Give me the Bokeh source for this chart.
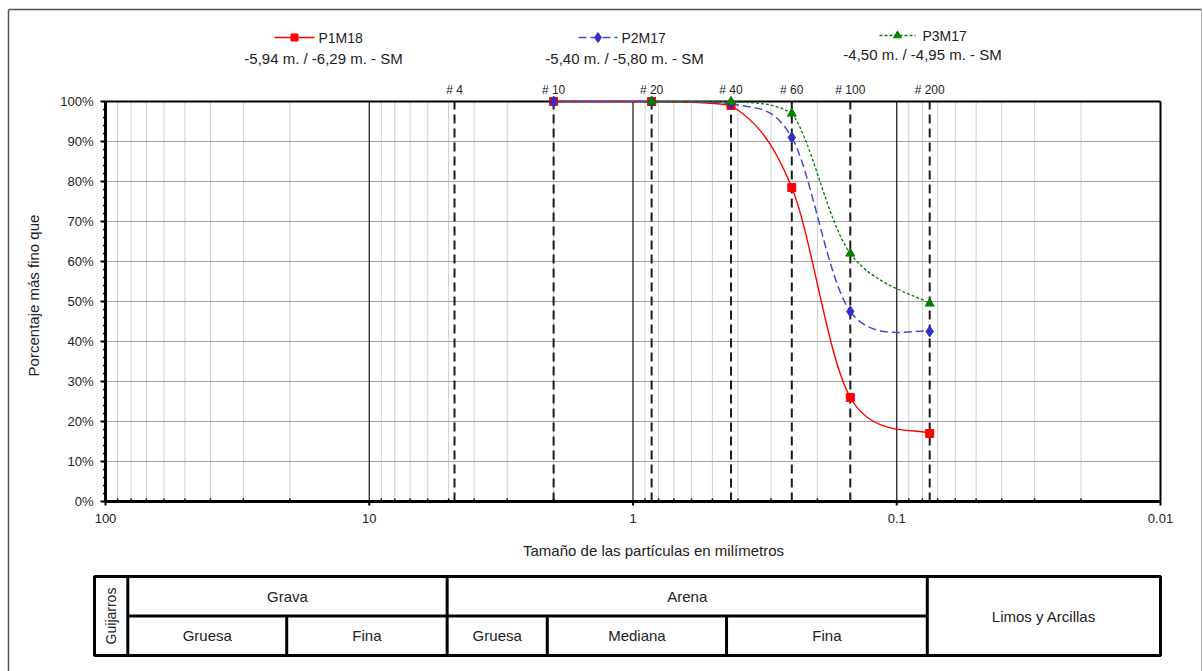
import math
from bokeh.plotting import figure
from bokeh.models import Range1d, LinearScale, LogScale
from bokeh.embed import file_html
from bokeh.resources import INLINE
from bokeh.core.properties import value

FONT = "Liberation Sans"
TXT = "#222222"

# ---------------- data ----------------
sieve_labels = ["# 4", "# 10", "# 20", "# 40", "# 60", "# 100", "# 200"]
sieve_mm = [4.75, 2.0, 0.85, 0.425, 0.25, 0.15, 0.075]

p1m18_mm = [2.0, 0.85, 0.425, 0.25, 0.15, 0.075]
p1m18 = [100.0, 100.0, 99.0, 78.5, 26.0, 17.0]
p2m17_mm = [2.0, 0.85, 0.425, 0.25, 0.15, 0.075]
p2m17 = [100.0, 100.0, 99.5, 91.0, 47.5, 42.5]
p3m17_mm = [0.85, 0.425, 0.25, 0.15, 0.075]
p3m17 = [100.0, 100.0, 97.0, 62.0, 49.5]

series_names = ["P1M18", "P2M17", "P3M17"]
series_depths = ["-5,94 m. / -6,29 m. - SM",
                 "-5,40 m. / -5,80 m. - SM",
                 "-4,50 m. / -4,95 m. - SM"]

x_major = [100, 10, 1, 0.1, 0.01]
x_major_labels = ["100", "10", "1", "0.1", "0.01"]
x_minor_mult = [2, 3, 4, 5, 6, 7, 8, 9]
y_major = [0, 10, 20, 30, 40, 50, 60, 70, 80, 90, 100]
y_major_labels = ["0%", "10%", "20%", "30%", "40%", "50%", "60%", "70%", "80%", "90%", "100%"]
y_minor = list(range(0, 101, 2))

# soil classification table (mm limits)
class_bounds = [100, 75, 19, 4.75, 2.0, 0.425, 0.075, 0.01]
row1_names = ["Grava", "Arena"]
row1_lims = [(75, 4.75), (4.75, 0.075)]
row2_names = ["Gruesa", "Fina", "Gruesa", "Mediana", "Fina"]
row2_lims = [(75, 19), (19, 4.75), (4.75, 2.0), (2.0, 0.425), (0.425, 0.075)]

# ---------------- layout geometry (pixels) ----------------
W, H = 1203, 671
PL, PR, PT, PB = 105, 1160, 101, 501          # plot area
DEC = (PR - PL) / 4.0                           # px per decade
YPX = (PB - PT) / 100.0                         # px per percent
TL, TR, TT, TB = 94, 1160, 576, 655             # classification table
TDEC = (TR - TL) / 4.0
TYPX = (TB - TT) / 2.0


def xo(x, dpx):
    """x value shifted dpx pixels to the right on the chart's log scale"""
    return x * 10 ** (-dpx / DEC)


def yo(y, dpx):
    """y value shifted dpx pixels downward"""
    return y - dpx / YPX


p = figure(width=W, height=H, x_axis_type="log",
           x_range=Range1d(10 ** (2 + PL / DEC), 10 ** (-2 - (W - PR) / DEC)),
           y_range=Range1d(-(H - PB) / YPX, 100 + PT / YPX),
           x_axis_location=None, y_axis_location=None,
           output_backend="svg", toolbar_location=None,
           min_border=0, min_border_left=0, min_border_right=0,
           min_border_top=0, min_border_bottom=0)
p.outline_line_color = None
p.grid.visible = False
p.extra_x_ranges = {"px": Range1d(0, W),
                    "tbl": Range1d(10 ** (2 + TL / TDEC), 10 ** (-2 - (W - TR) / TDEC))}
p.extra_y_ranges = {"px": Range1d(H, 0),
                    "tbl": Range1d(-(H - TB) / TYPX, 2 + TT / TYPX)}
p.extra_x_scales = {"px": LinearScale(), "tbl": LogScale()}
p.extra_y_scales = {"px": LinearScale(), "tbl": LinearScale()}

# ---------------- grid ----------------
minor_x = [d / 10 * m for d in x_major[:-1] for m in x_minor_mult]
p.segment(x0=minor_x, y0=[0] * len(minor_x), x1=minor_x, y1=[100] * len(minor_x),
          line_color="#cfcfcf", line_width=1)
inner_y = y_major[1:-1]
p.segment(x0=[x_major[0]] * len(inner_y), y0=inner_y, x1=[x_major[-1]] * len(inner_y), y1=inner_y,
          line_color="#a0a0a0", line_width=1.2)
inner_x = x_major[1:-1]
p.segment(x0=inner_x, y0=[0] * len(inner_x), x1=inner_x, y1=[100] * len(inner_x),
          line_color="#111111", line_width=1.2)

# sieve dashed verticals and labels
p.segment(x0=sieve_mm, y0=[0] * len(sieve_mm), x1=sieve_mm, y1=[100] * len(sieve_mm),
          line_color="#1a1a1a", line_width=2, line_dash="9 5")
p.text(x=sieve_mm, y=[yo(100, -12)] * len(sieve_mm), text=sieve_labels,
       text_align="center", text_baseline="middle", text_font=value(FONT),
       text_font_size="12px", text_color=TXT)

# frame: top / right thin, left / bottom heavy axes
p.segment(x0=[x_major[0], x_major[-1]], y0=[100, 0], x1=[x_major[-1], x_major[-1]], y1=[100, 100],
          line_color="#000000", line_width=2)
p.segment(x0=[x_major[0], x_major[0]], y0=[0, 0], x1=[x_major[0], x_major[-1]], y1=[100, 0],
          line_color="#000000", line_width=3)

# y ticks
p.segment(x0=[x_major[0]] * len(y_major), y0=y_major, x1=[xo(x_major[0], -5)] * len(y_major), y1=y_major,
          line_color="#000000", line_width=2)
p.segment(x0=[x_major[0]] * len(y_minor), y0=y_minor, x1=[xo(x_major[0], -2.5)] * len(y_minor), y1=y_minor,
          line_color="#000000", line_width=1.5)
# x ticks
p.segment(x0=x_major, y0=[0] * len(x_major), x1=x_major, y1=[yo(0, 4)] * len(x_major),
          line_color="#000000", line_width=2)
p.segment(x0=minor_x, y0=[0] * len(minor_x), x1=minor_x, y1=[yo(0, -3)] * len(minor_x),
          line_color="#000000", line_width=1.5)

# tick labels
p.text(x=[xo(x_major[0], -12)] * len(y_major), y=y_major, text=y_major_labels,
       text_align="right", text_baseline="middle", text_font=value(FONT),
       text_font_size="13px", text_color=TXT)
p.text(x=x_major, y=[yo(0, 17)] * len(x_major), text=x_major_labels,
       text_align="center", text_baseline="middle", text_font=value(FONT),
       text_font_size="13px", text_color=TXT)

# axis titles
p.text(x=[653], y=[550], text=["Tamaño de las partículas en milímetros"],
       x_range_name="px", y_range_name="px",
       text_align="center", text_baseline="middle", text_font=value(FONT),
       text_font_size="15px", text_color=TXT)
p.text(x=[33], y=[295], text=["Porcentaje más fino que"], angle=math.pi / 2,
       x_range_name="px", y_range_name="px",
       text_align="center", text_baseline="middle", text_font=value(FONT),
       text_font_size="15px", text_color=TXT)


# ---------------- series (smoothed like the source) ----------------
def smooth_parts(xs, ys, ymax=100.0):
    lx = [math.log10(v) for v in xs]
    y = list(ys)
    n = len(lx)
    out = {k: [] for k in ["x0", "y0", "x1", "y1", "cx0", "cy0", "cx1", "cy1"]}
    for i in range(n - 1):
        im = max(i - 1, 0)
        ip = min(i + 2, n - 1)
        out["x0"].append(xs[i]); out["y0"].append(y[i])
        out["x1"].append(xs[i + 1]); out["y1"].append(y[i + 1])
        out["cx0"].append(10 ** (lx[i] + (lx[i + 1] - lx[im]) / 6.0))
        out["cy0"].append(min(ymax, y[i] + (y[i + 1] - y[im]) / 6.0))
        out["cx1"].append(10 ** (lx[i + 1] - (lx[ip] - lx[i]) / 6.0))
        out["cy1"].append(min(ymax, y[i + 1] - (y[ip] - y[i]) / 6.0))
    return out


series = {
    "P1M18": dict(mm=p1m18_mm, vals=p1m18, color="#ff0000", mcolor="#ff0000", dash="solid",
                  width=1.4, marker="square", size=8),
    "P2M17": dict(mm=p2m17_mm, vals=p2m17, color="#4646d8", mcolor="#2f2fc4", dash="8 4",
                  width=1.5, marker="diamond", size=11),
    "P3M17": dict(mm=p3m17_mm, vals=p3m17, color="#008000", mcolor="#008000", dash="3 2",
                  width=1.3, marker="triangle", size=9),
}
for name in series_names:
    st = series[name]
    parts = smooth_parts(st["mm"], st["vals"])
    p.bezier(x0=parts["x0"], y0=parts["y0"], x1=parts["x1"], y1=parts["y1"],
             cx0=parts["cx0"], cy0=parts["cy0"], cx1=parts["cx1"], cy1=parts["cy1"],
             line_color=st["color"], line_width=st["width"], line_dash=st["dash"])
for name in series_names:
    st = series[name]
    p.scatter(st["mm"], st["vals"], marker=st["marker"], size=st["size"],
              fill_color=st["mcolor"], line_color=st["mcolor"])

# ---------------- legend (header) ----------------
leg_line = {"P1M18": (274, 314, 37), "P2M17": (578, 617, 37), "P3M17": (879, 915, 35)}
leg_text_x = {"P1M18": 318, "P2M17": 621, "P3M17": 922}
leg_sub = {"P1M18": (323, 58), "P2M17": (624, 58), "P3M17": (922, 54)}
for name, sub in zip(series_names, series_depths):
    st = series[name]
    xa, xb, yy = leg_line[name]
    p.segment(x0=[xa], y0=[yy], x1=[xb], y1=[yy], x_range_name="px", y_range_name="px",
              line_color=st["color"], line_width=st["width"], line_dash=st["dash"])
    p.scatter(x=[(xa + xb) / 2], y=[yy], x_range_name="px", y_range_name="px",
              marker=st["marker"], size=st["size"] - 1,
              fill_color=st["mcolor"], line_color=st["mcolor"])
    p.text(x=[leg_text_x[name]], y=[yy], text=[name], x_range_name="px", y_range_name="px",
           text_align="left", text_baseline="middle", text_font=value(FONT),
           text_font_size="14px", text_color=TXT)
    sx, sy = leg_sub[name]
    p.text(x=[sx], y=[sy], text=[sub], x_range_name="px", y_range_name="px",
           text_align="center", text_baseline="middle", text_font=value(FONT),
           text_font_size="15px", text_color=TXT)

# page border
p.segment(x0=[8, 8], y0=[9, 9], x1=[1201, 8], y1=[9, H + 5], x_range_name="px", y_range_name="px",
          line_color="#555555", line_width=1.5)
p.segment(x0=[1201], y0=[9], x1=[1201], y1=[H + 5], x_range_name="px", y_range_name="px",
          line_color="#b0b0b0", line_width=1)

# ---------------- classification table ----------------
full_v = [class_bounds[1], class_bounds[3], class_bounds[6]]
half_v = [class_bounds[2], class_bounds[4], class_bounds[5]]
p.quad(left=[class_bounds[0]], right=[class_bounds[-1]], bottom=[0], top=[2],
       x_range_name="tbl", y_range_name="tbl",
       fill_alpha=0, line_color="#000000", line_width=3)
p.segment(x0=full_v + half_v + [class_bounds[1]], y0=[0, 0, 0, 0, 0, 0, 1],
          x1=full_v + half_v + [class_bounds[6]], y1=[2, 2, 2, 1, 1, 1, 1],
          x_range_name="tbl", y_range_name="tbl", line_color="#000000", line_width=3)


def gmean(a, b):
    return math.sqrt(a * b)


tkw = dict(x_range_name="tbl", y_range_name="tbl", text_align="center", text_baseline="middle",
           text_font=value(FONT), text_color=TXT)
p.text(x=[gmean(a, b) for a, b in row1_lims], y=[1.5] * len(row1_lims), text=row1_names,
       text_font_size="15px", **tkw)
p.text(x=[gmean(a, b) for a, b in row2_lims], y=[0.5] * len(row2_lims), text=row2_names,
       text_font_size="15px", **tkw)
p.text(x=[gmean(class_bounds[6], class_bounds[7])], y=[1.0], text=["Limos y Arcillas"],
       text_font_size="15px", **tkw)
p.text(x=[gmean(class_bounds[0], class_bounds[1])], y=[1.0], text=["Guijarros"],
       angle=math.pi / 2, text_font_size="14px", **tkw)

open("out.html", "w").write(file_html(p, INLINE))
